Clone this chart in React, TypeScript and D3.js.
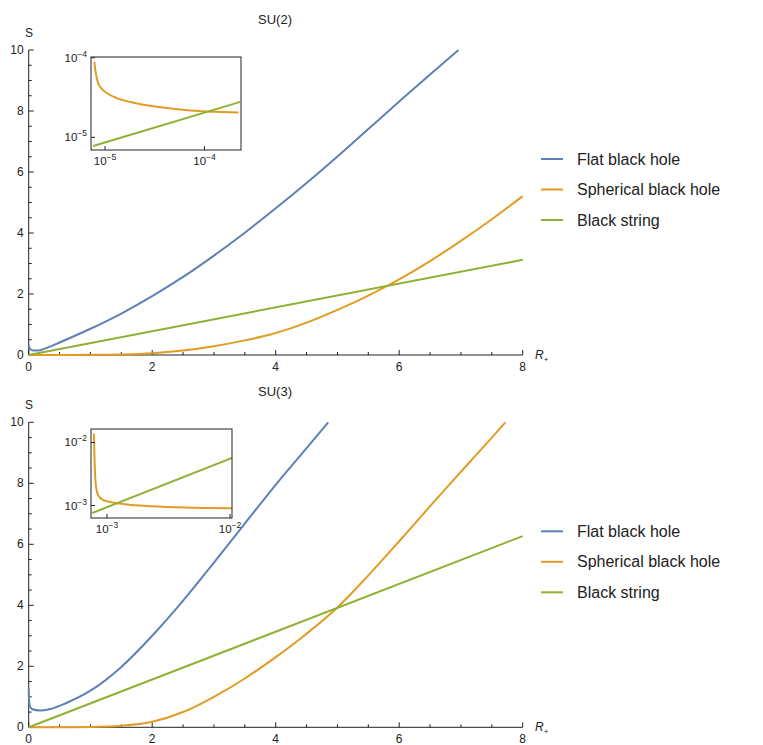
import React from "react";
import * as d3 from "d3";

// series names / colours (Mathematica defaults)
const seriesNames = ["Flat black hole", "Spherical black hole", "Black string"];
const seriesColors = ["#5E81B5", "#E19C24", "#8FB032"];

const rTicks = [0, 2, 4, 6, 8];
const sTicks = [0, 2, 4, 6, 8, 10];

// ---- SU(2) main plot
const flatR2 = [0, 0.02, 0.08, 0.16, 0.3, 0.5, 0.75, 1, 1.5, 2, 2.5, 3, 3.5, 4, 4.5, 5, 5.5, 6, 6.5, 6.96];
const flatS2 = [0.33, 0.2, 0.15, 0.15, 0.24, 0.41, 0.63, 0.86, 1.36, 1.93, 2.56, 3.26, 4.01, 4.81, 5.64, 6.51, 7.41, 8.31, 9.2, 10];
const sphR2 = [0, 0.5, 1, 1.5, 2, 2.5, 3, 3.5, 4, 4.5, 5, 5.5, 6, 6.5, 7, 7.5, 8];
const sphS2 = [0, 0, 0.005, 0.02, 0.06, 0.15, 0.29, 0.48, 0.72, 1.06, 1.48, 1.95, 2.48, 3.08, 3.74, 4.45, 5.21];
const strR2 = [0, 8];
const strS2 = [0, 3.12];

// ---- SU(2) inset (log-log)
const inSphR2 = [7.82e-6, 8.0e-6, 8.24e-6, 8.57e-6, 9.25e-6, 1.04e-5, 1.36e-5, 2.0e-5, 2.95e-5, 6.4e-5, 2.2e-4];
const inSphS2 = [8.81e-5, 6.93e-5, 5.62e-5, 4.73e-5, 4.09e-5, 3.61e-5, 3.07e-5, 2.71e-5, 2.48e-5, 2.21e-5, 2.05e-5];
const inStrR2 = [7.6e-6, 2.29e-4];
const inStrS2 = [7.8e-6, 2.79e-5];
const inXTicks2 = [1e-5, 1e-4];
const inYTicks2 = [1e-5, 1e-4];
const inXExp2 = ["−5", "−4"];
const inYExp2 = ["−5", "−4"];

// ---- SU(3) main plot
const flatR3 = [0, 0.004, 0.015, 0.05, 0.18, 0.35, 0.6, 1, 1.5, 2, 2.5, 3, 3.5, 4, 4.5, 4.85];
const flatS3 = [1.3, 0.95, 0.72, 0.6, 0.55, 0.6, 0.79, 1.2, 1.98, 3.0, 4.15, 5.4, 6.68, 7.95, 9.15, 10];
const sphR3 = [0, 0.5, 1, 1.5, 2, 2.5, 3, 3.5, 4, 4.5, 5, 5.5, 6, 6.5, 7, 7.5, 7.72];
const sphS3 = [0, 0, 0.01, 0.05, 0.18, 0.5, 1.0, 1.6, 2.3, 3.07, 3.93, 4.98, 6.1, 7.25, 8.38, 9.5, 10];
const strR3 = [0, 8];
const strS3 = [0, 6.27];

// ---- SU(3) inset (log-log)
const inSphR3 = [7.83e-4, 7.93e-4, 8.04e-4, 8.19e-4, 8.5e-4, 9.33e-4, 1.09e-3, 1.4e-3, 2.31e-3, 4.32e-3, 1.04e-2];
const inSphS3 = [1.39e-2, 4.92e-3, 2.66e-3, 1.85e-3, 1.44e-3, 1.22e-3, 1.13e-3, 1.05e-3, 9.75e-4, 9.29e-4, 9.06e-4];
const inStrR3 = [7.6e-4, 1.04e-2];
const inStrS3 = [7.62e-4, 5.69e-3];
const inXTicks3 = [1e-3, 1e-2];
const inYTicks3 = [1e-3, 1e-2];
const inXExp3 = ["−3", "−2"];
const inYExp3 = ["−3", "−2"];

const font = "'Liberation Sans', Arial, Helvetica, sans-serif";
const axisColor = "#222";

const zip = (xs: number[], ys: number[]) => xs.map((x, i) => [x, ys[i]] as [number, number]);

function Inset({ box, xDom, yDom, series, xTicks, yTicks, xExp, yExp }: any) {
  const x = d3.scaleLog().domain(xDom).range([box.x0, box.x1]);
  const y = d3.scaleLog().domain(yDom).range([box.y1, box.y0]);
  const line = d3
    .line<[number, number]>()
    .x((d) => x(d[0]))
    .y((d) => y(d[1]))
    .curve(d3.curveMonotoneX);
  const clipId = "clip" + Math.round(box.y0);
  const w = box.x1 - box.x0;
  const h = box.y1 - box.y0;
  return (
    <g>
      <rect x={box.x0} y={box.y0} width={w} height={h} fill="#fff" />
      <clipPath id={clipId}>
        <rect x={box.x0} y={box.y0} width={w} height={h} />
      </clipPath>
      <g clipPath={`url(#${clipId})`}>
        {series.map((s: any, i: number) => (
          <path key={i} d={line(s.data) || ""} fill="none" stroke={s.color} strokeWidth={2} />
        ))}
      </g>
      <rect x={box.x0} y={box.y0} width={w} height={h} fill="none" stroke={axisColor} strokeWidth={1} />
      {xTicks.map((t: number, i: number) => (
        <g key={"x" + i}>
          <line x1={x(t)} x2={x(t)} y1={box.y1} y2={box.y1 - 4} stroke={axisColor} />
          <text x={x(t)} y={box.y1 + 15} fontSize={11.5} textAnchor="middle" fontFamily={font} fill="#222">
            10<tspan dy={-5} fontSize={8.5}>{xExp[i]}</tspan>
          </text>
        </g>
      ))}
      {yTicks.map((t: number, i: number) => (
        <g key={"y" + i}>
          <line x1={box.x0} x2={box.x0 + 4} y1={y(t)} y2={y(t)} stroke={axisColor} />
          <text x={box.x0 - 4} y={y(t) + 4} fontSize={11.5} textAnchor="end" fontFamily={font} fill="#222">
            10<tspan dy={-5} fontSize={8.5}>{yExp[i]}</tspan>
          </text>
        </g>
      ))}
    </g>
  );
}

function Panel({ oy, title, flat, sph, str, inset }: any) {
  const x = d3.scaleLinear().domain([0, 8]).range([28.7, 522.7]);
  const y = d3.scaleLinear().domain([0, 10]).range([oy + 355, oy + 50]);
  const line = d3
    .line<[number, number]>()
    .x((d) => x(d[0]))
    .y((d) => y(d[1]))
    .curve(d3.curveMonotoneX);
  const minorX = x.ticks(16);
  const minorY = y.ticks(20);
  const data = [flat, sph, str];
  return (
    <g>
      <text x={275} y={oy + 24} fontSize={13} textAnchor="middle" fontFamily={font} fill="#222">
        {title}
      </text>
      {/* axes */}
      <line x1={x(0)} x2={x(8)} y1={y(0)} y2={y(0)} stroke={axisColor} />
      <line x1={x(0)} x2={x(0)} y1={y(0)} y2={y(10)} stroke={axisColor} />
      {minorX.map((t) => (
        <line key={"mx" + t} x1={x(t)} x2={x(t)} y1={y(0)} y2={y(0) - (t % 2 === 0 ? 5 : 3)} stroke={axisColor} />
      ))}
      {minorY.map((t) => (
        <line key={"my" + t} x1={x(0)} x2={x(0) + (t % 2 === 0 ? 5 : 3)} y1={y(t)} y2={y(t)} stroke={axisColor} />
      ))}
      {rTicks.map((t) => (
        <text key={"rx" + t} x={x(t)} y={y(0) + 16} fontSize={12} textAnchor="middle" fontFamily={font} fill="#222">
          {t}
        </text>
      ))}
      {sTicks.map((t) => (
        <text key={"sy" + t} x={x(0) - 5} y={y(t) + 4} fontSize={12} textAnchor="end" fontFamily={font} fill="#222">
          {t}
        </text>
      ))}
      <text x={29} y={oy + 37} fontSize={12} textAnchor="middle" fontFamily={font} fill="#222">
        S
      </text>
      <text x={535} y={oy + 359} fontSize={12} fontStyle="italic" fontFamily={font} fill="#222">
        R<tspan dy={3} fontSize={8} fontStyle="normal">+</tspan>
      </text>
      {/* curves */}
      {data.map((d, i) => (
        <path key={i} d={line(d) || ""} fill="none" stroke={seriesColors[i]} strokeWidth={2} />
      ))}
      <Inset {...inset} />
      {/* legend */}
      {seriesNames.map((n, i) => (
        <g key={n}>
          <line x1={541} x2={563} y1={oy + 159 + i * 30.5} y2={oy + 159 + i * 30.5} stroke={seriesColors[i]} strokeWidth={2} />
          <text x={577} y={oy + 164.5 + i * 30.5} fontSize={16} fontFamily={font} fill="#222">
            {n}
          </text>
        </g>
      ))}
    </g>
  );
}

export default function App() {
  return (
    <svg width={763} height={745} style={{ position: "absolute", left: 0, top: 0, background: "#fff" }}>
      <Panel
        oy={0}
        title="SU(2)"
        flat={zip(flatR2, flatS2)}
        sph={zip(sphR2, sphS2)}
        str={zip(strR2, strS2)}
        inset={{
          box: { x0: 91, x1: 241, y0: 57, y1: 150 },
          xDom: [Math.pow(10, -5.141), Math.pow(10, -3.633)],
          yDom: [Math.pow(10, -5.159), Math.pow(10, -3.99)],
          series: [
            { data: zip(inSphR2, inSphS2), color: seriesColors[1] },
            { data: zip(inStrR2, inStrS2), color: seriesColors[2] },
          ],
          xTicks: inXTicks2,
          yTicks: inYTicks2,
          xExp: inXExp2,
          yExp: inYExp2,
        }}
      />
      <Panel
        oy={372.3}
        title="SU(3)"
        flat={zip(flatR3, flatS3)}
        sph={zip(sphR3, sphS3)}
        str={zip(strR3, strS3)}
        inset={{
          box: { x0: 91, x1: 232, y0: 429, y1: 518 },
          xDom: [Math.pow(10, -3.13), Math.pow(10, -1.984)],
          yDom: [Math.pow(10, -3.198), Math.pow(10, -1.786)],
          series: [
            { data: zip(inSphR3, inSphS3), color: seriesColors[1] },
            { data: zip(inStrR3, inStrS3), color: seriesColors[2] },
          ],
          xTicks: inXTicks3,
          yTicks: inYTicks3,
          xExp: inXExp3,
          yExp: inYExp3,
        }}
      />
    </svg>
  );
}
